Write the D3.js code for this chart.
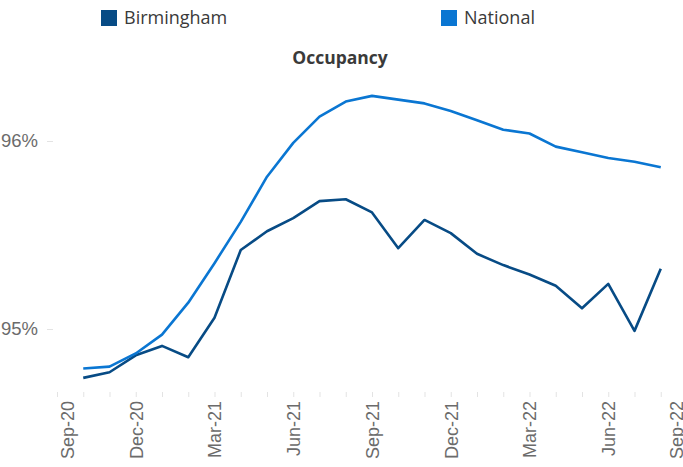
<!DOCTYPE html>
<html>
<head>
<meta charset="utf-8">
<script src="https://cdn.jsdelivr.net/npm/d3@7"></script>
<style>
    body { margin: 0; background: #fff; }
    svg { display: block; font-family: "Open Sans", sans-serif; }
</style>
</head>
<body>
<div id="chart"></div>
<script>
// --- Data ---
// Axis months (every month gets a small tick, every third one a label)
const axisMonths = ["Sep-20", "Oct-20", "Nov-20", "Dec-20", "Jan-21", "Feb-21", "Mar-21", "Apr-21", "May-21",
    "Jun-21", "Jul-21", "Aug-21", "Sep-21", "Oct-21", "Nov-21", "Dec-21", "Jan-22", "Feb-22", "Mar-22",
    "Apr-22", "May-22", "Jun-22", "Jul-22", "Aug-22", "Sep-22"];
const tickLabels = ["Sep-20", "Dec-20", "Mar-21", "Jun-21", "Sep-21", "Dec-21", "Mar-22", "Jun-22", "Sep-22"];

// Months that carry data
const dataMonths = ["Oct-20", "Nov-20", "Dec-20", "Jan-21", "Feb-21", "Mar-21", "Apr-21", "May-21", "Jun-21",
    "Jul-21", "Aug-21", "Sep-21", "Oct-21", "Nov-21", "Dec-21", "Jan-22", "Feb-22", "Mar-22", "Apr-22",
    "May-22", "Jun-22", "Jul-22", "Aug-22"];

// Occupancy, %
const birmingham = [94.74, 94.77, 94.86, 94.91, 94.85, 95.06, 95.42, 95.52, 95.59, 95.68, 95.69, 95.62,
    95.43, 95.58, 95.51, 95.40, 95.34, 95.29, 95.23, 95.11, 95.24, 94.99, 95.32];
const national = [94.79, 94.80, 94.87, 94.97, 95.14, 95.35, 95.57, 95.81, 95.99, 96.13, 96.21, 96.24,
    96.22, 96.20, 96.16, 96.11, 96.06, 96.04, 95.97, 95.94, 95.91, 95.89, 95.86];

const yTicks = [95, 96];

const seriesNames = ["Birmingham", "National"];
const seriesColors = ["#074b85", "#0a76d2"];

// --- Setup ---
const width = 683, height = 467;
const svg = d3.select("#chart").append("svg")
    .attr("width", width)
    .attr("height", height);

const x = d3.scalePoint()
    .domain(axisMonths)
    .range([57, 687]);

const y = d3.scaleLinear()
    .domain([95, 96])
    .range([329, 141]);

const color = d3.scaleOrdinal().domain(seriesNames).range(seriesColors);

// --- Axes ---
const xAxis = svg.append("g")
    .attr("transform", "translate(0,392)")
    .call(d3.axisBottom(x)
        .tickValues(axisMonths)
        .tickSize(5)
        .tickFormat(d => tickLabels.includes(d) ? d : ""));
xAxis.select(".domain").remove();
xAxis.selectAll(".tick line").attr("stroke", "#e3e3e3");
xAxis.selectAll(".tick text")
    .attr("transform", "rotate(-90)")
    .attr("x", -9)
    .attr("y", 0)
    .attr("dy", "0.35em")
    .attr("text-anchor", "end")
    .attr("fill", "#6b6b6b")
    .style("font-size", "18px");
// the edge labels sit slightly inside the plot, as in the original
xAxis.selectAll(".tick text").filter(d => d === axisMonths[0]).attr("y", 10);
xAxis.selectAll(".tick text").filter(d => d === axisMonths[axisMonths.length - 1]).attr("y", -11);

const yAxis = svg.append("g")
    .attr("transform", "translate(53,0)")
    .call(d3.axisLeft(y)
        .tickValues(yTicks)
        .tickSize(6)
        .tickPadding(9)
        .tickFormat(d => d + "%"));
yAxis.select(".domain").remove();
yAxis.selectAll(".tick line").attr("stroke", "#e3e3e3");
yAxis.selectAll(".tick text")
    .attr("fill", "#6b6b6b")
    .style("font-size", "18.5px");

// --- Lines ---
const line = d3.line()
    .x((d, i) => x(dataMonths[i]))
    .y(d => y(d));

[birmingham, national].forEach((values, i) => {
    svg.append("path")
        .datum(values)
        .attr("fill", "none")
        .attr("stroke", color(seriesNames[i]))
        .attr("stroke-width", 2.6)
        .attr("stroke-linejoin", "round")
        .attr("d", line);
});

// --- Title ---
svg.append("text")
    .attr("x", 340)
    .attr("y", 64)
    .attr("text-anchor", "middle")
    .attr("fill", "#3a3a3a")
    .style("font-size", "17.5px")
    .style("font-weight", "bold")
    .text("Occupancy");

// --- Legend ---
const legendX = [101, 441];
const legend = svg.selectAll(".legend-item")
    .data(seriesNames)
    .enter()
    .append("g")
    .attr("class", "legend-item")
    .attr("transform", (d, i) => `translate(${legendX[i]},10)`);

legend.append("rect")
    .attr("width", 16)
    .attr("height", 16)
    .attr("fill", d => color(d));

legend.append("text")
    .attr("x", 23)
    .attr("y", 8)
    .attr("dy", "0.35em")
    .attr("fill", "#3a3a3a")
    .style("font-size", "18px")
    .text(d => d);
</script>
</body>
</html>
